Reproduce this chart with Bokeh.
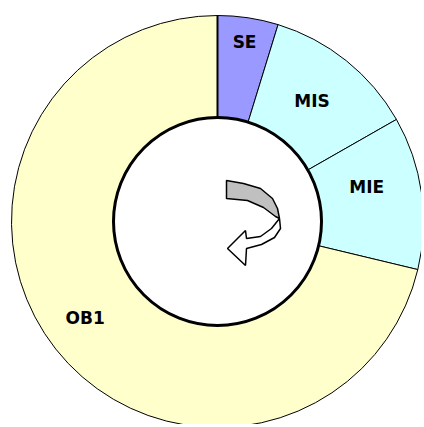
import numpy as np
from bokeh.plotting import figure
from bokeh.models import Range1d, ColumnDataSource
from bokeh.core.properties import value
from bokeh.embed import file_html
from bokeh.resources import INLINE

# ---- data ----
categories = ["SE", "MIS", "MIE", "OB1"]
shares = [4.75, 12.0, 12.0, 71.25]
colors = ["#9999FF", "#CCFFFF", "#CCFFFF", "#FFFFCC"]

# ---- layout / style ----
OFF = 0                    # observed page offset of the figure
CX, CY = 217, 221          # centre of the ring in page pixels
R_OUT, R_IN = 206, 104
label_radius = [182, 153, 153, 164]
label_angle_shift = [0.0, -0.5, -4.8, 2.0]   # degrees

W, H = 421, 424
p = figure(width=W, height=H, output_backend="svg", toolbar_location=None,
           x_range=Range1d(OFF - CX, OFF + W - CX),
           y_range=Range1d(CY - (OFF + H), CY - OFF),
           min_border=0, match_aspect=False)
p.axis.visible = False
p.grid.visible = False
p.outline_line_color = None
p.background_fill_color = "white"
p.border_fill_color = "white"

fr = np.array(shares) / sum(shares)
cum = np.concatenate([[0], np.cumsum(fr)])
start = np.pi / 2 - 2 * np.pi * cum[:-1]
end = np.pi / 2 - 2 * np.pi * cum[1:]
src = ColumnDataSource(dict(start=start, end=end, color=colors, cat=categories))

p.annular_wedge(x=0, y=0, inner_radius=R_IN, outer_radius=R_OUT,
                start_angle="start", end_angle="end", direction="clock",
                fill_color="color", line_color="black", line_width=1, source=src)

# thick inner ring border
p.circle(x=0, y=0, radius=R_IN, fill_color="white", line_color="black", line_width=3)
# slightly heavier top separator
p.segment(x0=0, y0=R_IN, x1=0, y1=R_OUT, line_color="black", line_width=2)

# labels
mid_deg = np.degrees((cum[:-1] + cum[1:]) / 2 * 2 * np.pi) + np.array(label_angle_shift)
lx = np.array(label_radius) * np.sin(np.radians(mid_deg))
ly = np.array(label_radius) * np.cos(np.radians(mid_deg))
p.text(x=lx, y=ly, text=categories, text_align="center", text_baseline="middle",
       text_font=value("DejaVu Sans"), text_font_style="bold", text_font_size="17px",
       text_color="black")

# ---- decorative curved arrow in the hole (page-pixel outline, relative to centre) ----
gray_px = [(226, 180), (243, 183), (260, 188), (272, 198), (277, 208), (279, 218),
           (275, 216), (263, 207), (247, 200), (226, 198)]
white_px = [(279, 218), (280, 228), (274, 237), (261, 244), (246, 248), (245, 265),
            (227, 248), (245, 230), (246, 238), (260, 236), (271, 228)]

def conv(pts):
    return [x - CX for x, _ in pts], [CY - y for _, y in pts]

gx, gy = conv(gray_px)
wx, wy = conv(white_px)
p.patch(gx, gy, fill_color="#C0C0C0", line_color="black", line_width=1.5)
p.patch(wx, wy, fill_color="white", line_color="black", line_width=1.5)

open("out.html", "w").write(file_html(p, INLINE))
